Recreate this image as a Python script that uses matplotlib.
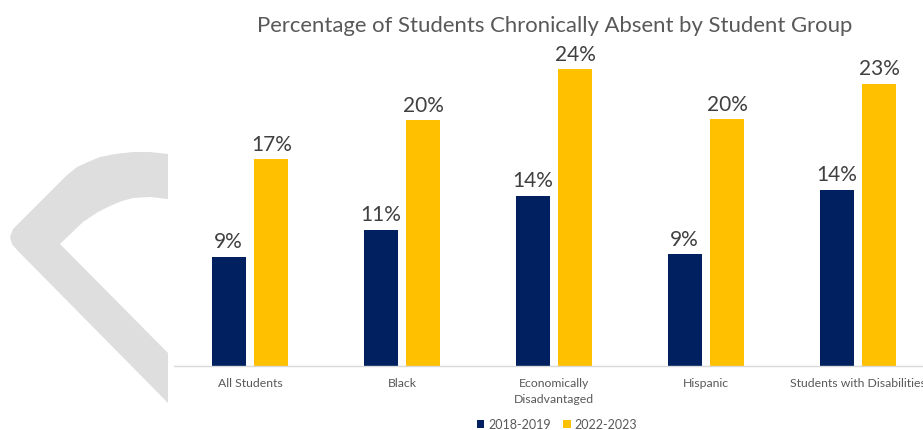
import matplotlib
matplotlib.use("Agg")
import matplotlib.pyplot as plt
from matplotlib.patches import Polygon
import numpy as np

groups = ["All Students", "Black", "Economically\nDisadvantaged", "Hispanic", "Students with Disabilities"]
years = ["2018-2019", "2022-2023"]
pct_2018 = [9.0, 11.2, 14.0, 9.2, 14.5]
pct_2022 = [17.0, 20.2, 24.4, 20.3, 23.2]

NAVY = "#002060"
GOLD = "#FFC000"
W, H = 923, 431

plt.rcParams["font.family"] = ["Lato", "DejaVu Sans"]

fig = plt.figure(figsize=(W / 100, H / 100), dpi=100)

# decorative grey chevron in the background (pixel outline, top-left origin)
chevron_px = [(168, 155), (150, 153), (133, 153), (115, 155), (100, 158), (88, 163), (77, 168),
              (66, 177), (33, 210), (13, 230), (10, 238), (12, 245), (17, 251), (168, 404),
              (168, 354), (60, 245), (83, 223), (98, 213), (110, 207), (122, 202), (133, 199),
              (150, 198), (168, 200)]
chev = Polygon([(x / W, 1 - y / H) for x, y in chevron_px], closed=True,
               transform=fig.transFigure, facecolor="#DEDEDE", edgecolor="none", zorder=0)
fig.patches.append(chev)

ax = fig.add_axes([174 / W, 1 - 367 / H, 760 / W, 316 / H])
ax.patch.set_alpha(0)

x = np.arange(len(groups))
bw = 0.224
off = 0.141
b1 = ax.bar(x - off, pct_2018, bw, color=NAVY, label=years[0], zorder=2)
b2 = ax.bar(x + off, pct_2022, bw, color=GOLD, label=years[1], zorder=2)

for bars in (b1, b2):
    for r in bars:
        ax.annotate(f"{r.get_height():.0f}%", (r.get_x() + r.get_width() / 2, r.get_height()),
                    xytext=(0, 4), textcoords="offset points", ha="center", va="bottom",
                    fontsize=15, color="#404040")

ax.set_xlim(-0.5, len(groups) - 0.5)
ax.set_ylim(0, 26)
ax.set_yticks([])
ax.set_xticks(x)
ax.set_xticklabels(groups, fontsize=8.8, color="#595959", linespacing=1.5)
ax.tick_params(axis="x", length=0, pad=8)
for s in ("top", "right", "left"):
    ax.spines[s].set_visible(False)
ax.spines["bottom"].set_color("#D9D9D9")
ax.spines["bottom"].set_linewidth(1)

fig.text(555 / W, 1 - 26 / H, "Percentage of Students Chronically Absent by Student Group",
         ha="center", va="center", fontsize=15.9, color="#595959")

fig.legend(handles=[b1, b2], labels=years, loc="center", bbox_to_anchor=(557 / W, 1 - 425 / H),
           ncol=2, frameon=False, fontsize=9, handlelength=0.6, handleheight=0.6,
           handletextpad=0.3, columnspacing=1.0, labelcolor="#595959")

fig.savefig("out.png", dpi=100)
